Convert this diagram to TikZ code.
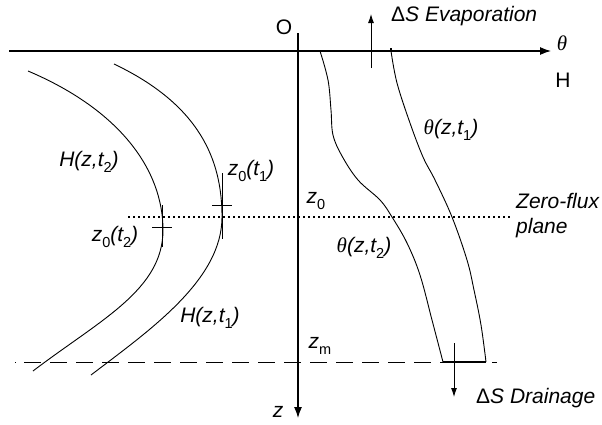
\documentclass[tikz,border=0pt]{standalone}
\usepackage{fontspec}
\setmainfont{Liberation Sans}
\newfontfamily\grfont{Liberation Serif}
\usetikzlibrary{arrows.meta}
\newcommand\sbs[1]{\raisebox{-0.3em}{\fontsize{14.5}{14.5}\selectfont\upshape #1}}
\newcommand\thet{{\grfont\itshape θ}}
\begin{document}
\begin{tikzpicture}[x=1pt,y=-1pt,
  lbl/.style={inner sep=0pt,font=\fontsize{21}{24}\selectfont\itshape},
  lblup/.style={inner sep=0pt,font=\fontsize{21}{24}\selectfont},
  axis/.style={line width=1.2pt,-{Latex[length=11pt,width=8pt]}},
  curve/.style={line width=0.9pt},
  flux/.style={line width=0.9pt,-{Latex[length=9pt,width=6pt]}},
  tick/.style={line width=0.9pt}]
\useasboundingbox (0,0) rectangle (602,424);
% axes
\coordinate (thL) at (9,51);
\coordinate (thR) at (551,51);
\coordinate (zT) at (298,33);
\coordinate (zB) at (298,418);
\draw[axis] (thL) -- (thR);
\draw[axis] (zT) -- (zB);
% zero-flux plane and bottom level
\coordinate (zfL) at (128,217);
\coordinate (zfR) at (510,217);
\draw[line width=2.2pt,dash pattern=on 2pt off 3pt] (zfL) -- (zfR);
\coordinate (bL) at (15,362);
\coordinate (bR) at (497,362);
\draw[line width=0.9pt,dash pattern=on 1pt off 8pt on 17pt off 9pt on 17pt off 9pt on 17pt off 9pt on 17pt off 9pt on 17pt off 9pt on 17pt off 9pt on 17pt off 9pt on 17pt off 9pt on 17pt off 9pt on 17pt off 9pt on 17pt off 9pt on 17pt off 9pt on 17pt off 9pt on 17pt off 9pt on 17pt off 9pt on 17pt off 9pt on 17pt off 9pt on 17pt off 9pt on 17pt off 9pt] (bL) -- (bR);
% H curves
\coordinate (h2a) at (28,71);
\coordinate (h2v) at (163,230);
\coordinate (h2b) at (33,371);
\draw[curve] (h2a) .. controls (120,110) and (163,170) .. (h2v) .. controls (163,290) and (100,320) .. (h2b);
\coordinate (h1a) at (114,64);
\coordinate (h1v) at (222,217);
\coordinate (h1b) at (91,375);
\draw[curve] (h1a) .. controls (200,105) and (222,160) .. (h1v) .. controls (222,280) and (150,330) .. (h1b);
% ticks on H curves
\draw[tick] (222,173) -- (222,239);
\draw[tick] (212,205) -- (232,205);
\draw[tick] (162,205) -- (162,247);
\draw[tick] (152,227) -- (172,227);
% theta curves
\coordinate (a1) at (320,51);
\coordinate (a2) at (391,51);
\coordinate (b1) at (443,362);
\coordinate (b2) at (486,362);
\draw[curve] plot[smooth,tension=0.6] coordinates {(320,51) (328,80) (331,110) (333,135) (342,156) (358,180) (380,200) (392,217) (407,243) (420,275) (432,320) (443,362)};
\draw[curve] plot[smooth,tension=0.6] coordinates {(391,51) (397,83) (410,123) (423,157) (435,180) (452,217) (467,260) (474,290) (481,325) (486,362)};
\draw[line width=2pt] (a1) -- (a2);
\draw[line width=1.3pt] (a2) -- ++(0,-3);
\draw[line width=1.8pt] (b1) -- (b2);
% fluxes
\coordinate (evB) at (371,68);
\coordinate (evT) at (371,14);
\draw[flux] (evB) -- (evT);
\coordinate (drT) at (454,343);
\coordinate (drB) at (454,397);
\draw[flux] (drT) -- (drB);
% labels
\node[lblup] (O) at (284,27) {O};
\node[lblup] (thlab) at (562,43) {\thet};
\node[lblup] (Hlab) at (563,80) {H};
\node[lbl,anchor=base west] (evap) at (391,21) {\upshape Δ\itshape S Evaporation};
\node[lbl] (th1) at (451,130) {\thet(z,t\sbs{1})};
\node[lbl] (th2) at (364,248) {\thet(z,t\sbs{2})};
\node[lbl] (H2) at (89,162) {H(z,t\sbs{2})};
\node[lbl] (H1) at (210,318) {H(z,t\sbs{1})};
\node[lbl] (z0t1) at (251,171) {z\sbs{0}(t\sbs{1})};
\node[lbl] (z0t2) at (115,237) {z\sbs{0}(t\sbs{2})};
\node[lbl] (z0) at (316,201) {z\sbs{0}};
\node[lbl] (zm) at (320,346) {z\sbs{m}};
\node[lbl,anchor=west,align=left,font=\fontsize{21}{25}\selectfont\itshape] (zf) at (516,216) {Zero-flux\\plane};
\node[lbl,anchor=base west] (drain) at (476,403) {\upshape Δ\itshape S Drainage};
\node[lbl] (zlab) at (278,412) {z};
\end{tikzpicture}
\end{document}
